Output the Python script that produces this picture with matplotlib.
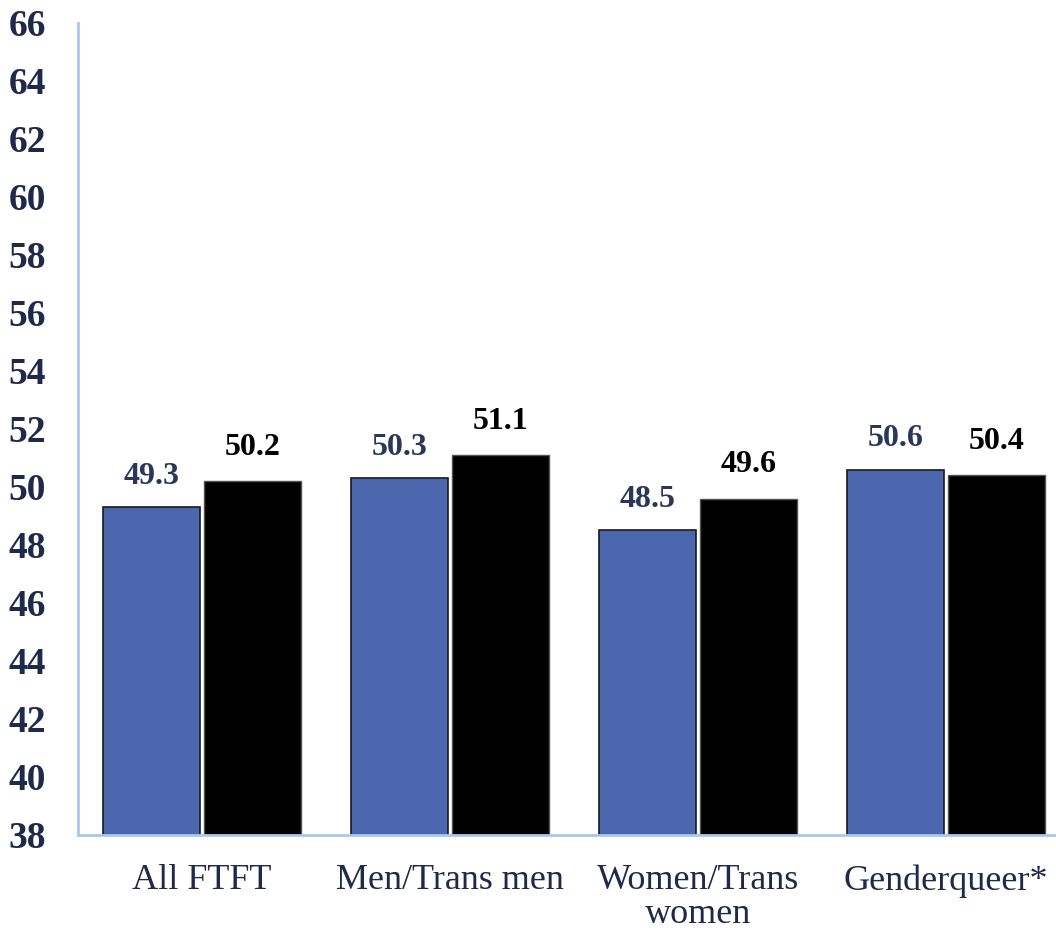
import matplotlib
matplotlib.use("Agg")
import matplotlib.pyplot as plt
import numpy as np

categories = ["All FTFT", "Men/Trans men", "Women/Trans\nwomen", "Genderqueer*"]
series_blue = [49.3, 50.3, 48.5, 50.6]
series_black = [50.2, 51.1, 49.6, 50.4]
yticks = list(range(38, 67, 2))

fig = plt.figure(figsize=(10.56, 9.34), dpi=100)
ax = fig.add_axes([78/1056, 1-835/934, 992/1056, (835-23)/934])

x = np.arange(len(categories))
w = 0.39
off = 0.205
navy = "#1F2A4A"
ax.bar(x - off, series_blue, w, bottom=0, color="#4A67AE", edgecolor="#1a1a1a", linewidth=1.2)
ax.bar(x + off, series_black, w, bottom=0, color="#000000", edgecolor="#555555", linewidth=1.0)

ax.set_ylim(38, 66)
ax.set_xlim(-0.5, len(categories) - 0.5)
ax.set_yticks(yticks)
ax.set_yticklabels([str(t) for t in yticks], fontsize=27, fontweight="bold",
                   family="Liberation Serif", color=navy)
ax.set_xticks(x)
ax.set_xticklabels(categories, fontsize=26, family="Liberation Serif", color=navy,
                   linespacing=1.02)
ax.tick_params(axis="y", length=0, pad=23)
ax.tick_params(axis="x", length=0, pad=21)

for s in ["top", "right"]:
    ax.spines[s].set_visible(False)
for s in ["left", "bottom"]:
    ax.spines[s].set_color("#A9C8F0")
    ax.spines[s].set_linewidth(2)

for xi, v in zip(x, series_blue):
    ax.annotate(f"{v:.1f}", (xi - off, v), xytext=(0, 12), textcoords="offset points",
                ha="center", va="bottom", fontsize=23, fontweight="bold",
                family="Liberation Serif", color="#2B375A")
for xi, v in zip(x, series_black):
    ax.annotate(f"{v:.1f}", (xi + off, v), xytext=(0, 14), textcoords="offset points",
                ha="center", va="bottom", fontsize=23, fontweight="bold",
                family="Liberation Serif", color="#000000")

fig.savefig("out.png", dpi=100)
